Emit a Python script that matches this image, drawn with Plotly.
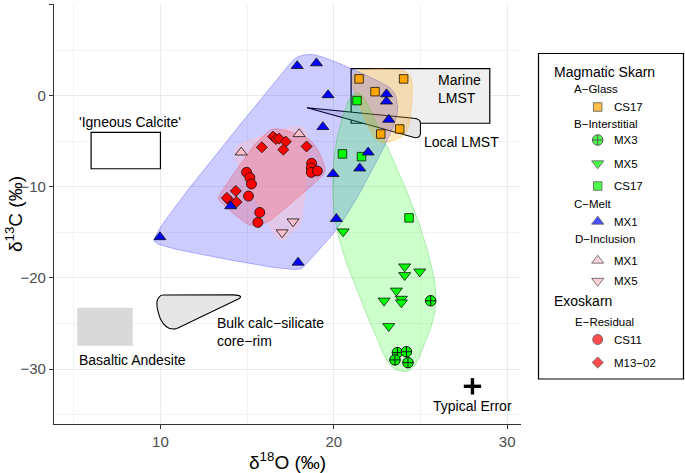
import numpy as np
import plotly.graph_objects as go

FONT = "Liberation Sans, Arial, sans-serif"
W, H = 685, 473
X_RANGE = [3.86, 30.8]
Y_RANGE = [-36.04, 10.1]
PANEL = (54, 521, 4, 424)  # left, right, top, bottom in page pixels

# ---- data (d18O, d13C) ----
glass_cs17_x = [21.46, 24.03, 22.38, 23.80, 22.71]
glass_cs17_y = [1.87, 1.87, 0.47, -3.63, -4.18]

inter_mx3_x = [25.59, 23.67, 24.19, 23.53, 24.28]
inter_mx3_y = [-22.5, -28.2, -28.1, -29.0, -29.3]
inter_mx5_x = [24.09, 24.09, 24.96, 23.61, 22.90, 23.90, 23.90, 23.17, 20.54]
inter_mx5_y = [-18.75, -19.7, -19.3, -21.4, -22.5, -22.3, -22.7, -25.3, -14.9]
inter_cs17_x = [21.34, 20.50, 21.60, 24.34]
inter_cs17_y = [-0.51, -6.37, -6.67, -13.4]

melt_mx1_x = [17.89, 19.00, 19.67, 19.37, 23.04, 23.04, 23.17, 21.98, 21.50, 19.96, 14.05, 20.15, 9.97, 17.94]
melt_mx1_y = [3.3, 3.6, 0.1, -3.4, 0.2, -0.6, -2.6, -6.2, -7.95, -8.57, -12.1, -13.5, -15.5, -18.3]

incl_mx1_x = [14.66, 18.00]
incl_mx1_y = [-6.2, -4.18]
incl_mx5_x = [17.65, 17.02]
incl_mx5_y = [-13.8, -15.0]

resid_cs11_x = [14.97, 15.16, 15.25, 15.08, 15.73, 15.62, 18.72, 18.70, 18.70, 19.05]
resid_cs11_y = [-8.39, -8.97, -9.67, -11.0, -12.8, -13.9, -7.4, -7.9, -8.4, -8.24]
resid_m13_x = [16.50, 16.66, 16.85, 17.23, 17.09, 18.43, 15.85, 14.35, 13.98, 14.39, 13.83]
resid_m13_y = [-4.47, -4.73, -4.69, -5.02, -5.9, -5.55, -5.64, -10.44, -11.5, -11.65, -11.2]

error_x, error_y = 28.0, -31.9
error_dx, error_dy = 0.5, 0.9

ORANGE, LIME, BLUE, PINK, RED = "#FFA500", "#00FF00", "#0000FF", "#FFC0CB", "#FF0000"

# name, x, y, symbol, colour, size
SERIES = {
    "A_CS17": ("CS17", glass_cs17_x, glass_cs17_y, "square", ORANGE, 8.5),
    "B_MX3": ("MX3", inter_mx3_x, inter_mx3_y, "circle-cross", LIME, 10.5),
    "B_MX5": ("MX5", inter_mx5_x, inter_mx5_y, "triangle-down", LIME, 10.5),
    "B_CS17": ("CS17", inter_cs17_x, inter_cs17_y, "square", LIME, 8.5),
    "C_MX1": ("MX1", melt_mx1_x, melt_mx1_y, "triangle-up", BLUE, 10.5),
    "D_MX1": ("MX1", incl_mx1_x, incl_mx1_y, "triangle-up", PINK, 10.5),
    "D_MX5": ("MX5", incl_mx5_x, incl_mx5_y, "triangle-down", PINK, 10.5),
    "E_CS11": ("CS11", resid_cs11_x, resid_cs11_y, "circle", RED, 10),
    "E_M13": ("M13−02", resid_m13_x, resid_m13_y, "diamond", RED, 8.5),
}


def fx(px):
    return px / W


def fy(py):
    return 1 - py / H


def to_px(xs, ys):
    l, r, t, b = PANEL
    px = l + (np.asarray(xs) - X_RANGE[0]) / (X_RANGE[1] - X_RANGE[0]) * (r - l)
    py = b - (np.asarray(ys) - Y_RANGE[0]) / (Y_RANGE[1] - Y_RANGE[0]) * (b - t)
    return px, py


def from_px(px, py):
    l, r, t, b = PANEL
    xs = X_RANGE[0] + (np.asarray(px) - l) / (r - l) * (X_RANGE[1] - X_RANGE[0])
    ys = Y_RANGE[0] + (b - np.asarray(py)) / (b - t) * (Y_RANGE[1] - Y_RANGE[0])
    return xs, ys


def convex_hull(points):
    pts = sorted(set(points))

    def cross(o, a, b):
        return (a[0] - o[0]) * (b[1] - o[1]) - (a[1] - o[1]) * (b[0] - o[0])

    lower, upper = [], []
    for p in pts:
        while len(lower) >= 2 and cross(lower[-2], lower[-1], p) <= 0:
            lower.pop()
        lower.append(p)
    for p in reversed(pts):
        while len(upper) >= 2 and cross(upper[-2], upper[-1], p) <= 0:
            upper.pop()
        upper.append(p)
    return lower[:-1] + upper[:-1]


def f_blend(num, den):
    p = 2 * den * den
    u = num / den
    return u ** 3 * (10 - p + (2 * p - 15) * u + (6 - p) * u * u)


def xspline_closed(ctrl, s=0.5, steps=20):
    n = len(ctrl)
    out = []
    for k in range(n):
        p = [ctrl[(k - 1) % n], ctrl[k], ctrl[(k + 1) % n], ctrl[(k + 2) % n]]
        for t in np.linspace(0, 1, steps, endpoint=False):
            a0 = f_blend(t - s, -1 - s) if t < s else 0.0
            a2 = f_blend(t + s, 1 + s)
            a1 = f_blend(t - 1 - s, -1 - s)
            a3 = f_blend(t - 1 + s, 1 + s) if t > 1 - s else 0.0
            w = a0 + a1 + a2 + a3
            out.append((
                (a0 * p[0][0] + a1 * p[1][0] + a2 * p[2][0] + a3 * p[3][0]) / w,
                (a0 * p[0][1] + a1 * p[1][1] + a2 * p[2][1] + a3 * p[3][1]) / w,
            ))
    out.append(out[0])
    return out


def encircle(xs, ys, expand=10):
    px, py = to_px(xs, ys)
    pts = []
    for a, b in zip(px, py):
        pts += [(a - expand, b), (a + expand, b), (a, b - expand), (a, b + expand)]
    curve = xspline_closed(convex_hull(pts))
    cx, cy = zip(*curve)
    return from_px(cx, cy)


fig = go.Figure()

# encircling hulls
HULLS = [
    (["C_MX1"], "rgba(0,0,255,0.2)", "rgba(0,0,255,0.25)"),
    (["B_MX3", "B_MX5", "B_CS17"], "rgba(0,255,0,0.2)", "rgba(0,180,0,0.25)"),
    (["A_CS17"], "rgba(255,165,0,0.25)", "rgba(255,165,0,0.3)"),
    (["D_MX1", "D_MX5"], "rgba(255,192,203,0.45)", "rgba(255,192,203,0.5)"),
    (["E_CS11", "E_M13"], "rgba(255,0,0,0.18)", "rgba(255,0,0,0.2)"),
]
for keys, fill, line in HULLS:
    hx = sum((list(SERIES[k][1]) for k in keys), [])
    hy = sum((list(SERIES[k][2]) for k in keys), [])
    cx, cy = encircle(hx, hy)
    fig.add_trace(go.Scatter(x=cx, y=cy, mode="lines", fill="toself", fillcolor=fill,
                             line=dict(color=line, width=1), hoverinfo="skip", showlegend=False))

# points (melt drawn last, on top)
for key in ["E_CS11", "E_M13", "D_MX1", "D_MX5", "A_CS17", "B_MX3", "B_MX5", "B_CS17", "C_MX1"]:
    name, xs, ys, symbol, color, size = SERIES[key]
    fig.add_trace(go.Scatter(
        x=xs, y=ys, mode="markers", name=name, showlegend=False,
        marker=dict(symbol=symbol, color=color, size=size,
                    line=dict(color="#111111", width=1 if symbol == "circle-cross" else 0.8)),
    ))

# typical error
fig.add_trace(go.Scatter(
    x=[error_x], y=[error_y], mode="markers", marker=dict(size=1, color="black"),
    error_x=dict(type="data", array=[error_dx], width=0, thickness=3.4, color="black"),
    error_y=dict(type="data", array=[error_dy], width=0, thickness=3.4, color="black"),
    showlegend=False, hoverinfo="skip",
))

shapes = [
    dict(type="rect", x0=6, x1=10, y0=-8, y1=-4, line=dict(color="black", width=1.2),
         fillcolor="white", layer="between"),
    dict(type="rect", x0=21, x1=29, y0=-3, y1=3, line=dict(color="black", width=1.2),
         fillcolor="#efefef", layer="between"),
    dict(type="path",
         path="M 18.46,-1.29 L 24.6,-2.45 Q 25.0,-2.5 25.0,-3.0 L 25.0,-4.1 Q 25.0,-4.6 24.7,-4.6 Z",
         line=dict(color="black", width=1.1), fillcolor="#e6e6e6", layer="between"),
    dict(type="rect", x0=5.2, x1=8.4, y0=-27.44, y1=-23.26, line=dict(width=0),
         fillcolor="#d9d9d9", layer="between"),
    dict(type="path",
         path="M 10.16,-21.87 L 14.2,-21.85 Q 14.8,-21.9 14.55,-22.25 L 10.95,-25.55 "
              "Q 10.35,-25.85 10.0,-24.5 Q 9.65,-22.7 9.9,-22.15 Q 10.0,-21.88 10.16,-21.87 Z",
         line=dict(color="black", width=1.1), fillcolor="#e6e6e6", layer="between"),
]

annotations = []


def label(text, x, y, xanchor="center", size=14, **kw):
    annotations.append(dict(text=text, x=x, y=y, xref="x", yref="y", xanchor=xanchor,
                            yanchor="middle", showarrow=False,
                            font=dict(family=FONT, size=size, color="black"), **kw))


label("'Igneous Calcite'", 8.24, -2.86)
label("Marine<br>LMST", 25.92, 0.79, xanchor="left", align="left")
label("Local LMST", 25.06, -5.09, xanchor="left")
label("Basaltic Andesite", 5.2, -29.0, xanchor="left")
label("Bulk calc−silicate<br>core−rim", 13.14, -25.9, xanchor="left", align="left")
label("Typical Error", 28.0, -34.07)

# axis titles
annotations.append(dict(text="δ<sup>18</sup>O (‰)", x=fx((PANEL[0] + PANEL[1]) / 2), y=fy(461),
                        xref="paper", yref="paper", showarrow=False, xanchor="center", yanchor="middle",
                        font=dict(family=FONT, size=19, color="black")))
annotations.append(dict(text="δ<sup>13</sup>C (‰)", x=fx(14), y=fy(214), textangle=-90,
                        xref="paper", yref="paper", showarrow=False, xanchor="center", yanchor="middle",
                        font=dict(family=FONT, size=19, color="black")))

# manual legend (pixel layout inside the box)
LEG = (538.5, 683.5, 53.5, 379)
shapes.append(dict(type="rect", xref="paper", yref="paper",
                   x0=fx(LEG[0]), x1=fx(LEG[1]), y0=fy(LEG[3]), y1=fy(LEG[2]),
                   line=dict(color="black", width=1.2), fillcolor="rgba(0,0,0,0)"))
headers = [("Magmatic Skarn", 552, 72, 14), ("A−Glass", 572, 89, 11.5), ("B−Interstitial", 572, 123.5, 11.5),
           ("C−Melt", 572, 204, 11.5), ("D−Inclusion", 573, 238.5, 11.5), ("Exoskarn", 552, 301, 14),
           ("E−Residual", 573, 322, 11.5)]
entries = [("A_CS17", 107), ("B_MX3", 140), ("B_MX5", 163.5), ("B_CS17", 186), ("C_MX1", 221.5),
           ("D_MX1", 260.5), ("D_MX5", 281), ("E_CS11", 339.5), ("E_M13", 362.5)]
for text, x, y, size in headers:
    annotations.append(dict(text=text, x=x, y=y, xref="x2", yref="y2", xanchor="left", yanchor="middle",
                            showarrow=False, font=dict(family=FONT, size=size, color="black")))
for key, y in entries:
    name = SERIES[key][0]
    annotations.append(dict(text=name, x=612, y=y, xref="x2", yref="y2", xanchor="left", yanchor="middle",
                            showarrow=False, font=dict(family=FONT, size=11.5, color="black")))
fig.add_trace(go.Scatter(
    x=[597.7] * len(entries), y=[y for _, y in entries], xaxis="x2", yaxis="y2", mode="markers",
    marker=dict(symbol=[SERIES[k][3] for k, _ in entries], color=[SERIES[k][4] for k, _ in entries],
                size=[SERIES[k][5] for k, _ in entries],
                line=dict(color="#111111", width=[1 if SERIES[k][3] == "circle-cross" else 0.8 for k, _ in entries])),
    showlegend=False, hoverinfo="skip", cliponaxis=False,
))

axis_common = dict(
    showline=True, linecolor="#333333", linewidth=1.3, ticks="outside", ticklen=4, tickcolor="#333333",
    tickwidth=1, tickfont=dict(family=FONT, size=15, color="#4d4d4d"), showgrid=True, gridcolor="#ebebeb",
    gridwidth=1.1, zeroline=False, mirror=False,
    minor=dict(tickmode="linear", tick0=0, dtick=5, showgrid=True, gridcolor="#f3f3f3", gridwidth=0.6, ticks=""),
)
fig.update_layout(
    width=W, height=H, autosize=False,
    margin=dict(l=0, r=0, t=0, b=0),
    paper_bgcolor="white", plot_bgcolor="white",
    showlegend=False,
    xaxis=dict(domain=[fx(PANEL[0]), fx(PANEL[1])], range=X_RANGE, tickvals=[10, 20, 30], **axis_common),
    yaxis=dict(domain=[fy(PANEL[3]), fy(PANEL[2])], range=Y_RANGE, tickvals=[-30, -20, -10, 0, 10],
               **axis_common),
    xaxis2=dict(domain=[fx(LEG[0]), fx(LEG[1])], range=[LEG[0], LEG[1]], visible=False, anchor="y2",
                fixedrange=True),
    yaxis2=dict(domain=[fy(LEG[3]), fy(LEG[2])], range=[LEG[3], LEG[2]], visible=False, anchor="x2",
                fixedrange=True),
    shapes=shapes,
    annotations=annotations,
    font=dict(family=FONT),
)

# the page body has a default 8px margin; drop it so the figure fills the window exactly
fig.write_html("out.html", config={"displayModeBar": False},
               post_script="document.body.style.margin='0px'; document.body.style.overflow='hidden';")
